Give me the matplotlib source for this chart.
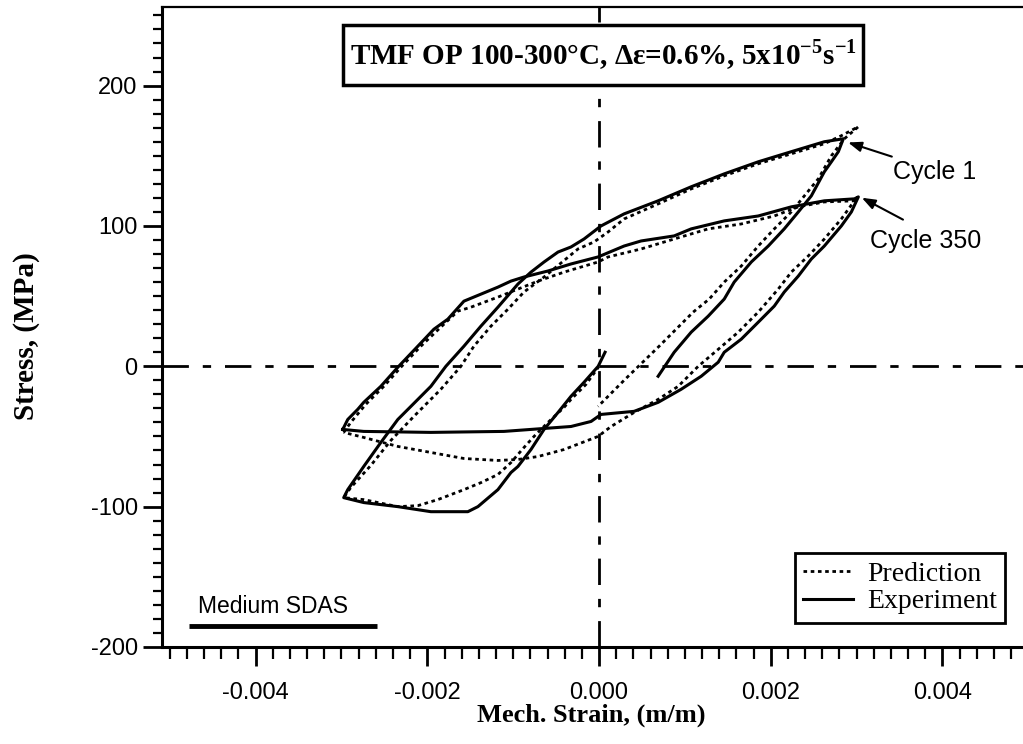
import matplotlib
matplotlib.use('Agg')
import matplotlib.pyplot as plt
from matplotlib.patches import Rectangle
from matplotlib.ticker import MultipleLocator, FuncFormatter

plt.rcParams['mathtext.fontset'] = 'custom'
plt.rcParams['mathtext.rm'] = 'Liberation Serif'
plt.rcParams['mathtext.bf'] = 'Liberation Serif:bold'

# cycle 1, experiment (m/m, MPa)
c1_exp_strain = [0.00007, -0.00001, -0.000175, -0.000327, -0.000478, -0.000641, -0.000793, -0.000945, -0.001026, -0.001178, -0.001411, -0.001528, -0.001959, -0.002344, -0.002741, -0.002974,
                 -0.002927, -0.002741, -0.002542, -0.002344, -0.002192, -0.001959, -0.001784, -0.001574, -0.001376, -0.001178, -0.000945, -0.000793, -0.000641, -0.000478, -0.000327, -0.000175, 0.000023, 0.000292, 0.000688, 0.001073, 0.001458, 0.001854, 0.002239, 0.002624, 0.002845,
                 0.002787, 0.002706, 0.002624, 0.002472, 0.002321, 0.002157, 0.001971, 0.001773, 0.001574, 0.001458, 0.001271, 0.001073, 0.000875, 0.000688]
c1_exp_stress = [10, 0, -11.4, -21.4, -32.9, -45, -59.3, -71.4, -75.7, -87.9, -100, -103.6, -103.6, -100, -97.1, -93.6,
                 -87.9, -71.4, -54.3, -37.9, -28.6, -14.3, 0, 14.3, 28.6, 42.1, 58.6, 67.1, 74.3, 81.4, 85, 90.7, 100, 108.6, 117.9, 127.9, 137.1, 145.7, 152.9, 160, 162.1,
                 152.9, 145.7, 138.6, 121.4, 110, 97.9, 85.7, 74.3, 60, 47.9, 35.7, 24.3, 10, -7.1]

# cycle 1, prediction
c1_pred_strain = [0, -0.000152, -0.000327, -0.000408, -0.000595, -0.000758, -0.000875, -0.001026, -0.001178, -0.001376, -0.001574, -0.001878, -0.002111, -0.002344, -0.002741, -0.002974,
                  -0.002892, -0.002659, -0.002426, -0.002157, -0.001843, -0.001609, -0.001458, -0.001259, -0.001061, -0.000875, -0.000641, -0.000245, -0.000058, 0.000105, 0.000292, 0.000688, 0.001073, 0.001458, 0.001854, 0.002239, 0.002624, 0.002822, 0.00302,
                  0.002857, 0.002706, 0.002554, 0.002391, 0.002239, 0.002041, 0.001854, 0.001656, 0.001458, 0.001283, 0.001096, 0.0007, 0.000303, -0.000012]
c1_pred_stress = [0, -12.9, -23.6, -29.3, -40, -50, -57.9, -68.6, -77.1, -82.9, -87.9, -95, -99.3, -100, -95, -93.6,
                  -86.4, -70.7, -52.9, -35.7, -16.4, 0, 14.3, 28.6, 40.7, 52.9, 63.6, 83.6, 88.6, 95.7, 105, 115.7, 126.4, 135.7, 144.3, 151.4, 158.6, 164.3, 170.7,
                  162.1, 150, 133.6, 121.4, 110, 97.9, 85.7, 71.4, 60, 47.9, 38.6, 14.3, -9.3, -28.6]

# cycle 350, experiment
c350_exp_strain = [-0.002985, -0.002927, -0.002811, -0.002741, -0.002542, -0.002344, -0.002111, -0.001924, -0.001761, -0.001574, -0.001376, -0.001178, -0.001026, -0.000875, -0.000595, -0.000327, -0.000012, 0.000292, 0.00049, 0.000875, 0.001073, 0.001458, 0.001854, 0.002239, 0.002624, 0.002974, 0.00302,
                   0.002939, 0.002822, 0.002624, 0.002472, 0.002321, 0.002157, 0.002041, 0.001854, 0.001656, 0.001458, 0.001388, 0.00119, 0.000956, 0.000688, 0.000408, 0.000023,
                   -0.000093, -0.000327, -0.000641, -0.001108, -0.001959, -0.002741, -0.002985]
c350_exp_stress = [-45, -37.9, -30.7, -25.7, -14.3, -0.7, 14.3, 26.4, 33.6, 46.4, 51.4, 56.4, 60.7, 63.6, 67.9, 72.9, 77.9, 85.7, 89.3, 92.9, 97.9, 103.6, 107.1, 113.6, 117.9, 119.3, 120.7,
                   110, 100, 85.7, 76.4, 64.3, 52.9, 42.9, 31.4, 19.3, 10, 2.9, -7.1, -16.4, -25.7, -32.1, -34.3,
                   -39.3, -42.9, -44.3, -46.4, -47.1, -46.4, -45]

# cycle 350, prediction
c350_pred_strain = [-0.002974, -0.002892, -0.002717, -0.002507, -0.002309, -0.002076, -0.001843, -0.001644, -0.001493, -0.001178, -0.000945, -0.000711, -0.000408, -0.000012, 0.000105, 0.00049, 0.000875, 0.001271, 0.001656, 0.002041, 0.002321, 0.002624, 0.002974,
                    0.002822, 0.002624, 0.002437, 0.002239, 0.002087, 0.001854, 0.001621, 0.001388, 0.001155, 0.000921, 0.000688, 0.000408, 0.00014, -0.000012,
                    -0.000408, -0.000711, -0.000945, -0.001178, -0.001574, -0.001959, -0.002344, -0.002741, -0.002974]
c350_pred_stress = [-47.1, -40, -27.1, -14.3, -0.7, 14.3, 27.9, 39.3, 42.1, 49.3, 55, 60.7, 67.1, 74.3, 77.9, 83.6, 90.7, 97.9, 101.4, 107.1, 113.6, 117.1, 117.9,
                    105, 90.7, 78.6, 67.1, 55, 38.6, 24.3, 12.1, 0, -14.3, -23.6, -32.9, -42.9, -50,
                    -59.3, -64.3, -66.4, -67.1, -65.7, -61.4, -57.1, -50.7, -47.1]

serif = 'Liberation Serif'
sans = 'Liberation Sans'

fig = plt.figure(figsize=(10.23, 7.44), dpi=100)
ax = fig.add_axes([0.1584, 0.1304, 0.8485, 0.8602])

# zero lines
ax.axhline(0, color='black', lw=2, dashes=(9.5, 5, 3, 5), zorder=1)
ax.axvline(0, color='black', lw=2, dashes=(9.5, 5, 3, 5), zorder=1)

dot = (0, (1.3, 1.3))
ax.plot(c1_pred_strain, c1_pred_stress, color='black', lw=2, linestyle=dot, label='Prediction')
ax.plot(c350_pred_strain, c350_pred_stress, color='black', lw=2, linestyle=dot)
ax.plot(c1_exp_strain, c1_exp_stress, color='black', lw=2.2, label='Experiment')
ax.plot(c350_exp_strain, c350_exp_stress, color='black', lw=2.2)

ax.set_xlim(-0.00509, 0.00502)
ax.set_ylim(-200, 256)

ax.xaxis.set_major_locator(MultipleLocator(0.002))
ax.xaxis.set_minor_locator(MultipleLocator(0.0002))
ax.yaxis.set_major_locator(MultipleLocator(100))
ax.yaxis.set_minor_locator(MultipleLocator(10))
ax.xaxis.set_major_formatter(FuncFormatter(lambda v, p: '%.3f' % v if abs(v) > 1e-9 else '0.000'))
ax.yaxis.set_major_formatter(FuncFormatter(lambda v, p: '%d' % round(v)))

ax.tick_params(which='both', direction='out', top=False, right=False)
ax.tick_params(which='major', length=13.5, width=2, labelsize=17)
ax.xaxis.set_tick_params(which='major', pad=12)
ax.yaxis.set_tick_params(which='major', pad=4)
ax.xaxis.set_tick_params(which='minor', length=8.5, width=1.6)
ax.yaxis.set_tick_params(which='minor', length=6.5, width=1.6)
for lab in ax.get_xticklabels() + ax.get_yticklabels():
    lab.set_fontfamily(sans)

ax.spines['right'].set_visible(False)
ax.spines['left'].set_linewidth(2.2)
ax.spines['bottom'].set_linewidth(2.2)
ax.spines['top'].set_linewidth(1.6)

ax.set_xlabel('Mech. Strain, (m/m)', fontfamily=serif, fontweight='bold', fontsize=19)
ax.set_ylabel('Stress, (MPa)', fontfamily=serif, fontweight='bold', fontsize=21)
ax.xaxis.set_label_coords(0.495, -0.088)
ax.yaxis.set_label_coords(-0.141, 0.486)

# boxed test condition
ax.add_patch(Rectangle((0.2085, 0.878), 0.599, 0.094, transform=ax.transAxes,
                       fc='white', ec='black', lw=2.5, zorder=4))
ax.text(0.509, 0.925, r'TMF OP 100-300°C, Δε=0.6%, 5x10$^{\mathbf{-5}}$s$^{\mathbf{-1}}$',
        transform=ax.transAxes, ha='center', va='center', fontsize=21, fontweight='bold',
        fontfamily=serif, zorder=5)

ax.text(0.0415, 0.0625, 'Medium SDAS', transform=ax.transAxes, va='center',
        fontsize=16.5, fontfamily=sans)
ax.plot([0.031, 0.2477], [0.0328, 0.0328], transform=ax.transAxes, color='black',
        lw=3.5, solid_capstyle='butt')

arrow = dict(arrowstyle='-|>,head_length=0.8,head_width=0.3', color='black', lw=1.5,
             shrinkA=0, shrinkB=0)
ax.annotate('', xy=(0.0029, 159.5), xytext=(0.00341, 149.4), arrowprops=arrow)
ax.text(0.00342, 138.7, 'Cycle 1', ha='left', va='center', fontsize=18, fontfamily=sans)
ax.annotate('', xy=(0.00306, 120.1), xytext=(0.00354, 104.5), arrowprops=arrow)
ax.text(0.003155, 89.5, 'Cycle 350', ha='left', va='center', fontsize=18, fontfamily=sans)

leg = ax.legend(loc='upper right', bbox_to_anchor=(1005 / 1023, 1 - 553 / 744),
                bbox_transform=fig.transFigure, borderaxespad=0, fancybox=False,
                framealpha=1, edgecolor='black', prop={'family': serif, 'size': 20},
                handlelength=1.8, handletextpad=0.5, labelspacing=0.08, borderpad=0.3)
leg.get_frame().set_linewidth(2)

fig.savefig('out.png', dpi=100)
